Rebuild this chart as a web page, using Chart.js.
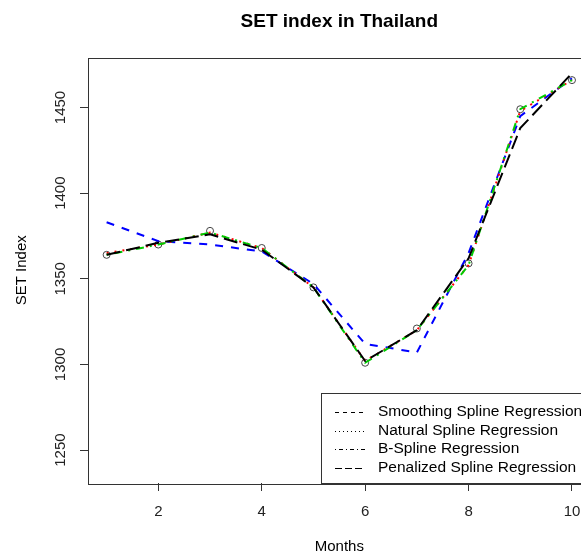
<!DOCTYPE html>
<html>
<head>
<meta charset="utf-8">
<script src="https://cdn.jsdelivr.net/npm/chart.js@4.4.1/dist/chart.umd.min.js"></script>
<style>
  html, body { margin: 0; padding: 0; overflow: hidden; background: #fff; }
  #wrap { position: absolute; left: 0; top: 0; }
</style>
</head>
<body>
<div id="wrap"><canvas id="chart" width="620" height="554"></canvas></div>
<script>
// months on the x axis
const months = [1, 2, 3, 4, 5, 6, 7, 8, 9, 10];
// observed SET index (open circles)
const observed = [1364, 1370, 1378, 1368, 1345, 1301, 1321, 1359, 1449, 1466];
// fitted values of each model
const smoothingFit = [1383, 1372, 1370, 1366, 1347, 1312, 1307, 1365, 1445, 1467];
const naturalFit = [1365, 1370, 1377, 1368, 1345, 1302, 1320, 1358, 1448, 1466];
const bSplineFit = [1364, 1370, 1377, 1368, 1345, 1301, 1320, 1358, 1449, 1466];
const penalizedFit = [1364, 1371, 1376, 1367, 1345, 1302, 1320, 1362, 1438, 1470];

const seriesLabels = [
  'Smoothing Spline Regression',
  'Natural Spline Regression',
  'B-Spline Regression',
  'Penalized Spline Regression'
];
const xTicks = [2, 4, 6, 8, 10];
const yTicks = [1250, 1300, 1350, 1400, 1450];

const FONT = "'Liberation Sans', Arial, sans-serif";

function toPoints(values) {
  return months.map((m, i) => ({ x: m, y: values[i] }));
}

function lineSet(label, values, color, dash, order) {
  return {
    label: label,
    data: toPoints(values),
    borderColor: color,
    borderWidth: 2,
    borderDash: dash,
    borderCapStyle: 'butt',
    pointRadius: 0,
    fill: false,
    tension: 0,
    order: order
  };
}

// box around the plot region, like R's bty="o"
const boxPlugin = {
  id: 'plotBox',
  afterDraw(chart) {
    const { ctx, chartArea } = chart;
    ctx.save();
    ctx.strokeStyle = '#333';
    ctx.lineWidth = 1;
    ctx.strokeRect(Math.round(chartArea.left) + 0.5, Math.round(chartArea.top) + 0.5,
      Math.round(chartArea.right - chartArea.left), Math.round(chartArea.bottom - chartArea.top));
    ctx.restore();
  }
};

// legend box at the bottom right, black line samples
const legendDashes = [[4, 4], [1, 3], [1, 3, 4, 3], [7, 3]];
const legendPlugin = {
  id: 'rLegend',
  afterDraw(chart) {
    const { ctx, chartArea } = chart;
    const left = 321, top = 393;
    const bottom = Math.round(chartArea.bottom);
    ctx.save();
    ctx.fillStyle = '#fff';
    ctx.fillRect(left, top, chart.width - left, bottom - top);
    ctx.strokeStyle = '#333';
    ctx.lineWidth = 1;
    ctx.strokeRect(left + 0.5, top + 0.5, chart.width, bottom - top);
    ctx.font = '15.5px ' + FONT;
    ctx.textBaseline = 'middle';
    ctx.textAlign = 'left';
    seriesLabels.forEach((label, i) => {
      const y = 412 + i * 18.5;
      ctx.strokeStyle = '#000';
      ctx.setLineDash(legendDashes[i]);
      ctx.beginPath();
      ctx.moveTo(335, Math.round(y) + 0.5);
      ctx.lineTo(365, Math.round(y) + 0.5);
      ctx.stroke();
      ctx.fillStyle = '#000';
      ctx.fillText(label, 378, y);
    });
    ctx.restore();
  }
};

const ctx = document.getElementById('chart').getContext('2d');
new Chart(ctx, {
  type: 'line',
  data: {
    datasets: [
      {
        label: 'Observed',
        data: toPoints(observed),
        showLine: false,
        pointStyle: 'circle',
        pointRadius: 3.5,
        pointBorderWidth: 1,
        pointBorderColor: '#444',
        pointBackgroundColor: 'rgba(0,0,0,0)',
        order: 5
      },
      lineSet(seriesLabels[0], smoothingFit, '#0000ff', [8, 8], 4),
      lineSet(seriesLabels[1], naturalFit, '#ff0000', [2, 6], 3),
      lineSet(seriesLabels[2], bSplineFit, '#00cd00', [2, 6, 8, 6], 2),
      lineSet(seriesLabels[3], penalizedFit, '#000000', [14, 6], 1)
    ]
  },
  options: {
    responsive: false,
    animation: false,
    layout: { padding: { left: 0, right: 29.4, top: 0, bottom: 0 } },
    scales: {
      x: {
        type: 'linear',
        min: 0.64,
        max: 10.36,
        afterBuildTicks: (scale) => { scale.ticks = xTicks.map(v => ({ value: v })); },
        afterFit: (scale) => { scale.height = 71; },
        grid: { drawOnChartArea: false, drawTicks: true, tickLength: 8, color: '#333' },
        border: { display: false },
        ticks: { color: '#222', padding: 12, font: { family: FONT, size: 15 } },
        title: { display: true, text: 'Months', color: '#000', padding: { top: 0, bottom: 0 },
          font: { family: FONT, size: 15, lineHeight: 1 } }
      },
      // top axis only carries the main title, centred over the plot region
      top: {
        type: 'linear',
        position: 'top',
        min: 0.64,
        max: 10.36,
        afterFit: (scale) => { scale.height = 57.5; },
        grid: { display: false },
        border: { display: false },
        ticks: { display: false },
        title: { display: true, text: 'SET index in Thailand', color: '#000', padding: { top: 10, bottom: 0 },
          font: { family: FONT, size: 19, weight: 'bold' } }
      },
      y: {
        type: 'linear',
        min: 1230.8,
        max: 1479.2,
        afterBuildTicks: (scale) => { scale.ticks = yTicks.map(v => ({ value: v })); },
        afterFit: (scale) => { scale.width = 88; },
        grid: { drawOnChartArea: false, drawTicks: true, tickLength: 8, color: '#333' },
        border: { display: false },
        ticks: { color: '#222', padding: 2, minRotation: 90, maxRotation: 90, autoSkip: false,
          crossAlign: 'center', font: { family: FONT, size: 15 },
          callback: (value) => String(value) },
        title: { display: true, text: 'SET Index', color: '#000', padding: { top: 13, bottom: 0 },
          font: { family: FONT, size: 15 } }
      }
    },
    plugins: {
      legend: { display: false },
      tooltip: { enabled: false },
      title: { display: false }
    }
  },
  plugins: [boxPlugin, legendPlugin]
});
</script>
</body>
</html>
